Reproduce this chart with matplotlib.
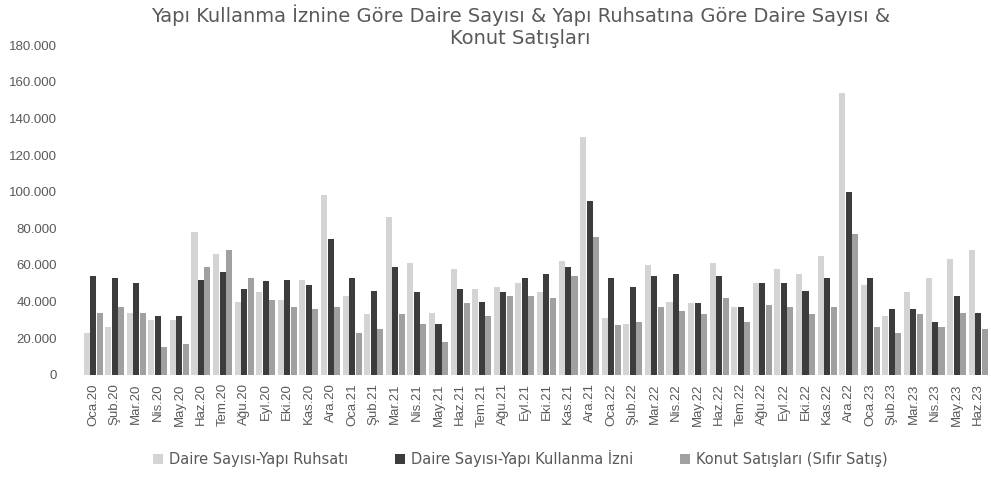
import numpy as np
import matplotlib
matplotlib.use("Agg")
import matplotlib.pyplot as plt
from matplotlib.ticker import FuncFormatter

# ---------------------------------------------------------------------------
# Données
# ---------------------------------------------------------------------------
months = [
    "Oca.20", "Şub.20", "Mar.20", "Nis.20", "May.20", "Haz.20", "Tem.20", "Ağu.20",
    "Eyl.20", "Eki.20", "Kas.20", "Ara.20",
    "Oca.21", "Şub.21", "Mar.21", "Nis.21", "May.21", "Haz.21", "Tem.21", "Ağu.21",
    "Eyl.21", "Eki.21", "Kas.21", "Ara.21",
    "Oca.22", "Şub.22", "Mar.22", "Nis.22", "May.22", "Haz.22", "Tem.22", "Ağu.22",
    "Eyl.22", "Eki.22", "Kas.22", "Ara.22",
    "Oca.23", "Şub.23", "Mar.23", "Nis.23", "May.23", "Haz.23",
]

ruhsat = [
    23000, 26000, 34000, 30000, 30000, 78000, 66000, 40000,
    45000, 41000, 52000, 98000,
    43000, 33000, 86000, 61000, 34000, 58000, 47000, 48000,
    50000, 45000, 62000, 130000,
    31000, 28000, 60000, 40000, 39000, 61000, 37000, 50000,
    58000, 55000, 65000, 154000,
    49000, 32000, 45000, 53000, 63000, 68000,
]

kullanma = [
    54000, 53000, 50000, 32000, 32000, 52000, 56000, 47000,
    51000, 52000, 49000, 74000,
    53000, 46000, 59000, 45000, 28000, 47000, 40000, 45000,
    53000, 55000, 59000, 95000,
    53000, 48000, 54000, 55000, 39000, 54000, 37000, 50000,
    50000, 46000, 53000, 100000,
    53000, 36000, 36000, 29000, 43000, 34000,
]

konut = [
    34000, 37000, 34000, 15000, 17000, 59000, 68000, 53000,
    41000, 37000, 36000, 37000,
    23000, 25000, 33000, 28000, 18000, 39000, 32000, 43000,
    43000, 42000, 54000, 75000,
    27000, 29000, 37000, 35000, 33000, 42000, 29000, 38000,
    37000, 33000, 37000, 77000,
    26000, 23000, 33000, 26000, 34000, 25000,
]

series_labels = [
    "Daire Sayısı-Yapı Ruhsatı",
    "Daire Sayısı-Yapı Kullanma İzni",
    "Konut Satışları (Sıfır Satış)",
]

TEXT_COLOR = "#595959"
COLORS = ["#d4d4d4", "#3c3c3c", "#a0a0a0"]


def tr_thousands(v, _pos):
    return f"{int(v):,}".replace(",", ".")


def main() -> None:
    plt.rcParams["font.family"] = ["Liberation Sans", "DejaVu Sans"]

    fig = plt.figure(figsize=(9.91, 4.8), dpi=100)
    ax = fig.add_axes([0.083, 0.219, 0.915, 0.687])

    x = np.arange(len(months))
    w = 0.28
    for k, (vals, lab, col) in enumerate(zip([ruhsat, kullanma, konut],
                                             series_labels, COLORS)):
        ax.bar(x + (k - 1) * (w + 0.02), vals, width=w, color=col,
               label=lab, zorder=2)

    ax.set_xlim(-0.5, len(months) - 0.5)
    ax.set_ylim(0, 180000)
    ax.set_yticks(np.arange(0, 180001, 20000))
    ax.yaxis.set_major_formatter(FuncFormatter(tr_thousands))
    ax.set_xticks(x)
    ax.set_xticklabels(months, rotation=90)

    for s in ax.spines.values():
        s.set_visible(False)
    ax.tick_params(axis="both", length=0, colors=TEXT_COLOR, labelsize=9.5)
    ax.tick_params(axis="y", pad=18)
    ax.tick_params(axis="x", pad=6)

    fig.suptitle(
        "Yapı Kullanma İznine Göre Daire Sayısı & Yapı Ruhsatına Göre Daire Sayısı &\n"
        "Konut Satışları",
        x=0.525, y=0.99, fontsize=14, color=TEXT_COLOR, linespacing=1.2,
        family="DejaVu Sans",
    )

    fig.legend(loc="lower center", bbox_to_anchor=(0.525, 0.0), ncol=3,
               frameon=False, labelcolor=TEXT_COLOR,
               prop={"family": "DejaVu Sans", "size": 10.5},
               handlelength=0.7, handleheight=0.7, columnspacing=3.2,
               handletextpad=0.4)

    fig.savefig("out.png", dpi=100)
    plt.close(fig)


if __name__ == "__main__":
    main()
